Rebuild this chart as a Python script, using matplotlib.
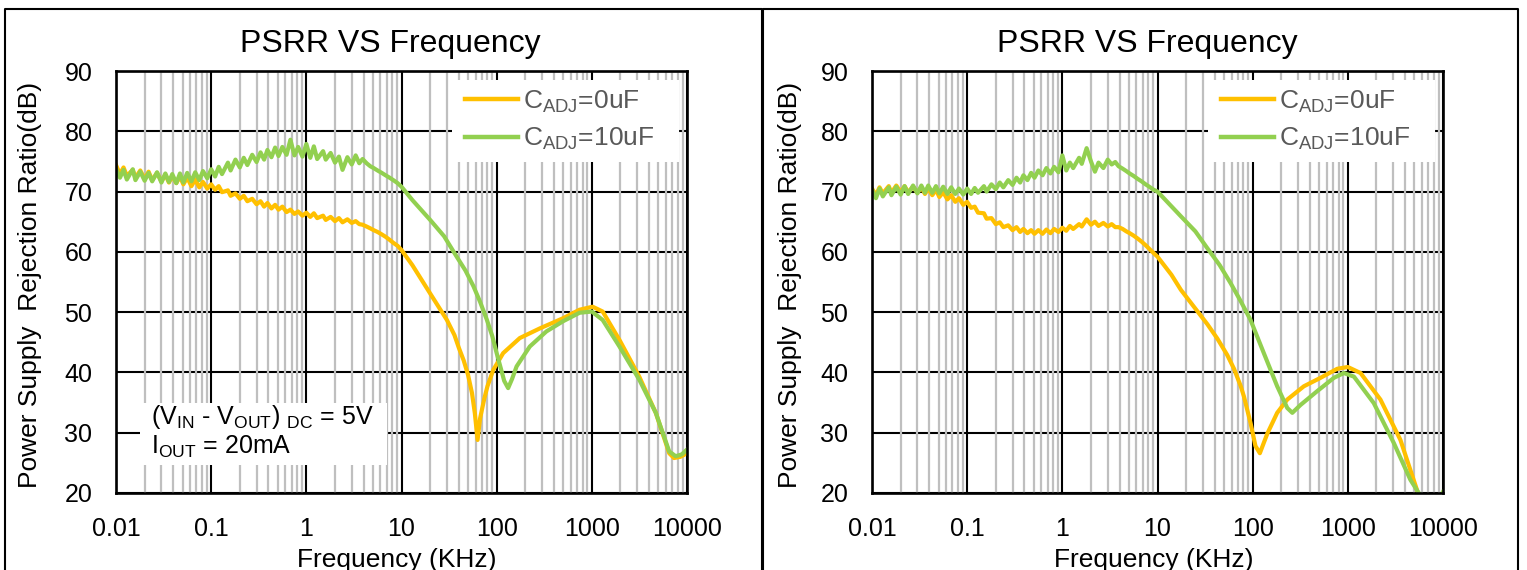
import numpy as np
import matplotlib
matplotlib.use("Agg")
import matplotlib.pyplot as plt
from matplotlib.lines import Line2D
from matplotlib.patches import Rectangle
from matplotlib.ticker import LogLocator, NullFormatter

plt.rcParams['font.family'] = 'Liberation Sans'
plt.rcParams['mathtext.fontset'] = 'custom'
plt.rcParams['mathtext.rm'] = 'Liberation Sans'

# ---- data ----
# E24 mantissas used for the noisy low-frequency part (0.01 .. 10 KHz)
e24 = [1.0, 1.1, 1.2, 1.3, 1.5, 1.6, 1.8, 2.0, 2.2, 2.4, 2.7, 3.0,
       3.3, 3.6, 3.9, 4.3, 4.7, 5.1, 5.6, 6.2, 6.8, 7.5, 8.2, 9.1]
f_lo = np.concatenate([np.array(e24) * d for d in (0.01, 0.1, 1.0)])

x_ticks = [0.01, 0.1, 1, 10, 100, 1000, 10000]
x_labels = ['0.01', '0.1', '1', '10', '100', '1000', '10000']
y_ticks = [20, 30, 40, 50, 60, 70, 80, 90]

labels = ['C$_{\\mathregular{ADJ}}$=0uF', 'C$_{\\mathregular{ADJ}}$=10uF']

# left chart, CADJ = 0uF
left_0uF_lo = [74.4, 72.9, 74.0, 72.6, 73.6, 72.3, 73.5, 72.1, 73.3, 71.9, 73.1, 71.7,
               72.8, 71.5, 72.6, 71.4, 72.5, 71.2, 72.3, 70.9, 72.0, 70.7, 71.6, 70.5,
               71.2, 70.3, 70.9, 69.9, 70.2, 69.3, 69.7, 68.8, 69.3, 68.4, 68.8, 67.9,
               68.4, 67.5, 68.1, 67.2, 67.8, 67.0, 67.5, 66.6, 67.0, 66.3, 66.7, 66.0,
               66.5, 65.8, 66.4, 65.6, 66.0, 65.3, 65.8, 65.1, 65.6, 64.9, 65.4, 64.8,
               65.1, 64.6, 64.5, 64.2, 63.9, 63.6, 63.3, 62.9, 62.5, 62.0, 61.5, 61.0]
left_0uF_hi_f = [10, 13, 20, 30, 36, 40, 45, 50, 55, 59, 63, 67, 74, 80, 92, 117, 175, 284,
                 500, 743, 1020, 1300, 1950, 3150, 4700, 6500, 7300, 8500, 10000]
left_0uF_hi = [60.3, 57.8, 53.1, 48.7, 46.2, 44.1, 42.0, 39.6, 36.6, 33.2, 28.8, 32.4, 35.6,
               37.7, 40.4, 43.2, 45.7, 47.3, 49.0, 50.4, 50.9, 50.1, 45.4, 39.3, 33.3, 26.6,
               25.8, 26.0, 26.6]

# left chart, CADJ = 10uF
left_10uF_lo = [73.8, 72.3, 73.6, 72.0, 73.7, 71.9, 73.3, 71.8, 73.1, 71.7, 73.2, 71.5,
                73.0, 71.6, 72.9, 71.4, 73.0, 71.5, 73.1, 71.7, 73.2, 71.9, 73.4, 72.2,
                73.7, 72.5, 74.1, 72.9, 74.8, 73.5, 75.3, 74.0, 75.6, 74.4, 76.1, 74.9,
                76.5, 75.3, 76.9, 75.7, 77.3, 75.9, 77.4, 76.1, 78.6, 76.0, 77.4, 75.8,
                77.9, 75.6, 77.5, 75.4, 76.7, 75.3, 76.4, 74.8, 75.8, 73.6, 75.7, 74.5,
                76.0, 74.7, 75.4, 74.7, 74.2, 73.9, 73.5, 73.1, 72.7, 72.3, 71.9, 71.4]
left_10uF_hi_f = [10, 13, 20, 28, 38, 47, 57, 67, 79, 90, 100, 110, 120, 132, 145, 162, 223,
                  333, 500, 743, 1000, 1300, 1950, 3150, 4700, 6500, 7600, 8800, 10000]
left_10uF_hi = [70.8, 68.6, 65.3, 62.6, 59.2, 56.9, 54.3, 51.7, 48.7, 46.0, 43.2, 40.8, 38.6,
                37.4, 38.9, 41.0, 44.3, 46.8, 48.5, 49.9, 50.1, 48.7, 44.3, 38.8, 33.3, 26.9,
                26.1, 26.4, 27.2]

# right chart, CADJ = 0uF
right_0uF_lo = [70.5, 69.4, 70.7, 69.7, 70.9, 69.8, 71.0, 69.9, 70.9, 69.9, 70.8, 69.8,
                70.7, 69.6, 70.5, 69.4, 70.3, 69.1, 69.9, 68.7, 69.4, 68.3, 68.9, 67.8,
                68.3, 67.3, 67.5, 66.5, 66.4, 65.5, 65.6, 64.6, 64.9, 64.1, 64.4, 63.6,
                64.1, 63.3, 63.8, 63.1, 63.6, 63.0, 63.6, 63.0, 63.7, 63.1, 63.8, 63.3,
                64.0, 63.5, 64.3, 63.8, 64.6, 64.2, 65.4, 64.5, 65.0, 64.3, 64.8, 64.2,
                64.6, 64.1, 64.1, 63.8, 63.4, 63.1, 62.7, 62.2, 61.7, 61.1, 60.5, 59.8]
right_0uF_hi_f = [10, 14, 17.6, 22.3, 33.4, 42.6, 54, 63.7, 75, 81, 95, 107, 119, 130, 143,
                  181, 231, 345, 516, 773, 1000, 1360, 2200, 3570, 5330, 6500]
right_0uF_hi = [59.2, 56.2, 53.7, 51.6, 48.0, 45.6, 42.9, 40.6, 37.7, 36.0, 31.6, 27.8, 26.6,
                28.2, 29.9, 33.3, 35.5, 37.7, 39.1, 40.6, 40.9, 39.9, 35.5, 28.8, 20.5, 16.0]

# right chart, CADJ = 10uF
right_10uF_lo = [70.3, 68.9, 70.5, 69.2, 70.7, 69.4, 70.8, 69.5, 70.9, 69.6, 71.0, 69.7,
                 71.0, 69.8, 71.0, 69.8, 70.9, 69.7, 70.8, 69.6, 70.7, 69.6, 70.5, 69.5,
                 70.5, 69.6, 70.6, 69.8, 70.9, 70.0, 71.2, 70.4, 71.5, 70.7, 71.9, 71.1,
                 72.3, 71.5, 72.7, 71.9, 73.1, 72.3, 73.5, 72.7, 73.9, 73.0, 74.1, 73.2,
                 76.0, 73.5, 74.8, 73.9, 75.6, 74.6, 77.2, 75.0, 73.3, 74.8, 73.9, 75.3,
                 74.5, 74.9, 74.2, 73.8, 73.4, 73.0, 72.6, 72.1, 71.7, 71.2, 70.8, 70.3]
right_10uF_hi_f = [10, 17.6, 25, 33.4, 45, 58.7, 75, 95, 131, 181, 231, 261, 318, 477, 713,
                   908, 1160, 1875, 3040, 4540, 5560, 7000, 9000, 10000]
right_10uF_hi = [70.0, 65.9, 63.4, 60.6, 57.8, 54.8, 51.8, 48.7, 43.2, 37.7, 34.1, 33.3, 34.6,
                 36.9, 39.1, 39.9, 39.3, 34.9, 28.3, 22.2, 20.0, 17.5, 18.8, 20.2]

ORANGE = '#FFC000'
GREEN = '#92D050'

W, H = 1527, 570
fig = plt.figure(figsize=(W / 100, H / 100), dpi=100)


def px_axes(x0, y0, x1, y1):
    return [x0 / W, 1 - y1 / H, (x1 - x0) / W, (y1 - y0) / H]


def draw_panel(ax, lo0, hif0, hi0, lo10, hif10, hi10):
    ax.set_xscale('log')
    ax.plot(np.concatenate([f_lo, hif0]), np.concatenate([lo0, hi0]),
            color=ORANGE, lw=3.0, label=labels[0], solid_joinstyle='round', zorder=2)
    ax.plot(np.concatenate([f_lo, hif10]), np.concatenate([lo10, hi10]),
            color=GREEN, lw=3.0, label=labels[1], solid_joinstyle='round', zorder=2.1)
    ax.set_xlim(0.01, 10000)
    ax.set_ylim(20, 90)
    ax.set_xticks(x_ticks)
    ax.set_xticklabels(x_labels)
    ax.set_yticks(y_ticks)
    ax.xaxis.set_minor_locator(LogLocator(base=10, subs=np.arange(2, 10), numticks=20))
    ax.xaxis.set_minor_formatter(NullFormatter())
    ax.grid(which='major', color='black', lw=1.5)
    ax.grid(which='minor', axis='x', color='#BFBFBF', lw=1.6)
    ax.tick_params(which='both', length=0)
    ax.tick_params(which='major', labelsize=18, pad=17)
    ax.set_axisbelow(True)
    ax.yaxis.set_zorder(0.4)
    ax.xaxis.set_zorder(0.6)
    for s in ax.spines.values():
        s.set_linewidth(1.9)
        s.set_color('black')
        s.set_zorder(3)

    # white area behind the legend
    ax.add_patch(Rectangle((0.588, 0.784), 0.398, 0.195, transform=ax.transAxes,
                           facecolor='white', edgecolor='none', zorder=4))
    leg = ax.legend(loc='upper left', bbox_to_anchor=(0.611, 0.958), fontsize=19,
                    frameon=False, handlelength=2.0, handletextpad=0.2,
                    labelspacing=0.4, borderpad=0, borderaxespad=0)
    leg.set_zorder(5)
    for t in leg.get_texts():
        t.set_color('#595959')
    for h in leg.get_lines():
        h.set_linewidth(3.2)


ax1 = fig.add_axes(px_axes(116, 71, 687, 493))
draw_panel(ax1, left_0uF_lo, left_0uF_hi_f, left_0uF_hi,
           left_10uF_lo, left_10uF_hi_f, left_10uF_hi)
ax2 = fig.add_axes(px_axes(872, 71, 1443, 493))
draw_panel(ax2, right_0uF_lo, right_0uF_hi_f, right_0uF_hi,
           right_10uF_lo, right_10uF_hi_f, right_10uF_hi)

# test conditions box on the left chart
ax1.add_patch(Rectangle((0.042, 0.066), 0.433, 0.147, transform=ax1.transAxes,
                        facecolor='white', edgecolor='none', zorder=4))
ax1.text(0.061, 0.180, '(V$_{\\mathregular{IN}}$ - V$_{\\mathregular{OUT}}$) $_{\\mathregular{DC}}$ = 5V',
         transform=ax1.transAxes, fontsize=18, ha='left', va='center', zorder=6)
ax1.text(0.061, 0.109, 'I$_{\\mathregular{OUT}}$ = 20mA',
         transform=ax1.transAxes, fontsize=18, ha='left', va='center', zorder=6)

# titles and axis labels
for cx, xl, yl in [(390, 397, 30), (1147, 1154, 790)]:
    fig.text(cx / W, 1 - 52 / H, 'PSRR VS Frequency', fontsize=23,
             ha='center', va='baseline')
    fig.text(xl / W, 3 / H, 'Frequency (KHz)', fontsize=19, ha='center', va='baseline')
    fig.text(yl / W, 1 - 285 / H, 'Power Supply  Rejection Ratio(dB)', fontsize=19,
             rotation=90, ha='center', va='center')

# outer frames of the two chart areas (open at the bottom)
for x0, x1 in [(5, 761.5), (763, 1518)]:
    fig.add_artist(Line2D([x0 / W, x0 / W, x1 / W, x1 / W], [-0.1, 1 - 9 / H, 1 - 9 / H, -0.1],
                          transform=fig.transFigure, color='black', lw=1.5))

fig.savefig('out.png', dpi=100)
